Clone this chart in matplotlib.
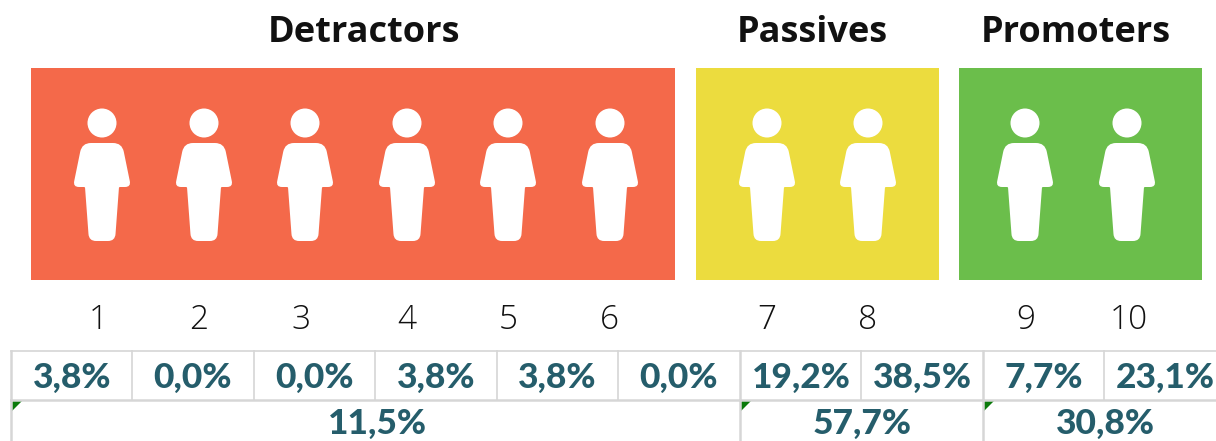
import matplotlib
matplotlib.use("Agg")
import matplotlib.pyplot as plt
from matplotlib.patches import Rectangle, Circle, PathPatch, Polygon
from matplotlib.path import Path

groups = ["Detractors", "Passives", "Promoters"]
scores = ["1", "2", "3", "4", "5", "6", "7", "8", "9", "10"]
score_shares = ["3,8%", "0,0%", "0,0%", "3,8%", "3,8%", "0,0%", "19,2%", "38,5%", "7,7%", "23,1%"]
group_shares = ["11,5%", "57,7%", "30,8%"]
group_colors = ["#F4694A", "#ECDC3E", "#6BBE4B"]

W, H = 1216, 441
panel_x = [(31, 675), (696, 939), (959, 1202)]
title_x = [364, 812, 1076]
person_x = [102, 204, 305, 407, 508, 610, 767, 868, 1025, 1127]
score_x = [98, 199, 301, 407, 508, 609, 767, 868, 1026, 1129]
cell_x = [11, 132, 254, 375, 497, 618, 740, 861, 983, 1104]
share_x = [72, 193, 315, 436, 557, 679, 801, 922, 1044, 1165]
group_line_x = [11, 740, 983]
group_text_x = [377, 862, 1105]
TEXT = "#255D6B"
GRID = "#D6D6D6"

fig = plt.figure(figsize=(W / 100, H / 100), dpi=100, facecolor="white")
ax = fig.add_axes([0, 0, 1, 1])
ax.set_xlim(0, W)
ax.set_ylim(H, 0)
ax.axis("off")


def rounded(points, radii):
    verts, codes = [], []
    n = len(points)
    for i, (x, y) in enumerate(points):
        px, py = points[i - 1]
        nx, ny = points[(i + 1) % n]
        d1 = ((px - x) ** 2 + (py - y) ** 2) ** 0.5
        d2 = ((nx - x) ** 2 + (ny - y) ** 2) ** 0.5
        a = min(radii[i], d1 / 2)
        b = min(radii[i], d2 / 2)
        start = (x + (px - x) * a / d1, y + (py - y) * a / d1)
        end = (x + (nx - x) * b / d2, y + (ny - y) * b / d2)
        verts += [start, (x, y), end]
        codes += [Path.MOVETO if i == 0 else Path.LINETO, Path.CURVE3, Path.CURVE3]
    verts.append(verts[0])
    codes.append(Path.CLOSEPOLY)
    return Path(verts, codes)


def person(cx):
    ax.add_patch(Circle((cx, 123), 14.5, fc="white", ec="none"))
    body = [(-20, 143), (20, 143), (29, 187), (17, 187), (13, 241),
            (-13, 241), (-17, 187), (-29, 187)]
    radii = [9, 9, 6, 1, 7, 7, 1, 6]
    path = rounded([(cx + dx, y) for dx, y in body], radii)
    ax.add_patch(PathPatch(path, fc="white", ec="none"))


for (x0, x1), color, name, tx in zip(panel_x, group_colors, groups, title_x):
    ax.add_patch(Rectangle((x0, 68), x1 - x0, 212, fc=color, ec="none"))
    ax.text(tx, 33.5, name, ha="center", va="center", fontsize=26,
            family="Open Sans", fontweight="bold", color="#111111")

for cx in person_x:
    person(cx)

for sx, s in zip(score_x, scores):
    ax.text(sx, 320, s, ha="center", va="center", fontsize=24,
            family="Open Sans", fontweight="light", color="#111111")

# table grid
ax.plot([11, W], [351, 351], color=GRID, lw=1.2)
ax.plot([11, W], [400, 400], color=GRID, lw=1.8)
for x in cell_x:
    ax.plot([x, x], [351, 400], color=GRID, lw=1.8 if x in group_line_x else 1.2)
for x0 in group_line_x:
    ax.plot([x0, x0], [400, H], color=GRID, lw=1.8)
    ax.add_patch(Polygon([(x0 + 1, 401), (x0 + 11, 401), (x0 + 1, 411)],
                         fc="#0B7A0B", ec="none"))

for x, s in zip(share_x, score_shares):
    ax.text(x, 378, s, ha="center", va="center", fontsize=25.5, family="Lato",
            fontweight="black", color=TEXT)
for x, s in zip(group_text_x, group_shares):
    ax.text(x, 424, s, ha="center", va="center", fontsize=25.5, family="Lato",
            fontweight="black", color=TEXT)

fig.savefig("out.png", dpi=100, facecolor="white")
